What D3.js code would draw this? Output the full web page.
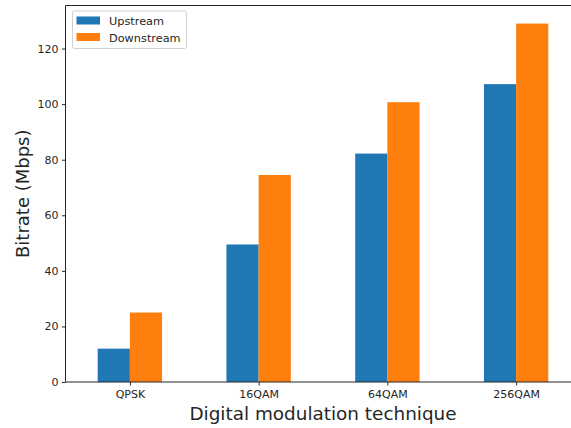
<!DOCTYPE html>
<html lang="en">
<head>
<meta charset="UTF-8">
<title>Bitrate by modulation</title>
<script src="https://d3js.org/d3.v7.min.js"></script>
<style>
    body { margin: 0; background: #fff; font-family: "DejaVu Sans", sans-serif; }
    svg { display: block; }
</style>
</head>
<body>
<svg id="chart" width="571" height="428"></svg>
<script>
const categories = ["QPSK", "16QAM", "64QAM", "256QAM"];
const upstream = [12, 49.5, 82.2, 107.2];
const downstream = [25, 74.5, 100.7, 129];
const seriesNames = ["Upstream", "Downstream"];
const yTicks = [0, 20, 40, 60, 80, 100, 120];

const colors = ["#1f77b4", "#ff7f0e"];
const svg = d3.select("#chart");

// axes box - right side runs past the image edge, like the original
const axLeft = 65.5, axRight = 580.5, axTop = 5.5, axBottom = 382;

const x = d3.scaleLinear().domain([-0.5, 3.5]).range([axLeft, axRight]);
const y = d3.scaleLinear().domain([0, 135.5]).range([axBottom, axTop]);
const barW = 0.25;

const data = categories.map((c, i) => ({ cat: c, i: i, vals: [upstream[i], downstream[i]] }));

const groups = svg.append("g").selectAll("g")
    .data(data)
    .join("g");

groups.selectAll("rect")
    .data(d => d.vals.map((v, k) => ({ i: d.i, k: k, v: v })))
    .join("rect")
    .attr("x", d => x(d.i - barW + d.k * barW))
    .attr("width", d => x(barW) - x(0))
    .attr("y", d => y(d.v))
    .attr("height", d => y(0) - y(d.v))
    .attr("fill", d => colors[d.k]);

// y axis
const yAxis = svg.append("g")
    .attr("transform", `translate(${axLeft},0)`)
    .call(d3.axisLeft(y).tickValues(yTicks).tickSize(3.5).tickPadding(3.5));
yAxis.select(".domain").remove();
yAxis.selectAll("text").style("font-size", "11px").style("font-family", "DejaVu Sans").attr("fill", "#262626");
yAxis.selectAll("line").attr("stroke", "#262626");

// x axis
const xAxis = svg.append("g")
    .attr("transform", `translate(0,${axBottom})`)
    .call(d3.axisBottom(x).tickValues(d3.range(categories.length)).tickFormat(i => categories[i]).tickSize(3.5).tickPadding(5));
xAxis.select(".domain").remove();
xAxis.selectAll("text").style("font-size", "11px").style("font-family", "DejaVu Sans").attr("fill", "#262626");
xAxis.selectAll("line").attr("stroke", "#262626");

// spines
svg.append("line").attr("x1", axLeft).attr("x2", axLeft).attr("y1", axTop).attr("y2", axBottom)
    .attr("stroke", "#262626").attr("stroke-width", 1);
svg.append("line").attr("x1", axLeft).attr("x2", axRight).attr("y1", axTop).attr("y2", axTop)
    .attr("stroke", "#262626").attr("stroke-width", 1);
svg.append("line").attr("x1", axLeft).attr("x2", axRight).attr("y1", axBottom).attr("y2", axBottom)
    .attr("stroke", "#262626").attr("stroke-width", 1);

// axis titles
svg.append("text")
    .attr("x", (axLeft + axRight) / 2).attr("y", 420)
    .attr("text-anchor", "middle")
    .style("font-size", "18.4px")
    .attr("fill", "#262626")
    .text("Digital modulation technique");

svg.append("text")
    .attr("transform", `translate(28.5,${(axTop + axBottom) / 2}) rotate(-90)`)
    .attr("text-anchor", "middle")
    .style("font-size", "18px")
    .attr("fill", "#262626")
    .text("Bitrate (Mbps)");

// legend
const legend = svg.append("g").attr("transform", "translate(72.5,11)");
legend.append("rect")
    .attr("width", 114).attr("height", 37.5).attr("rx", 2)
    .attr("fill", "#fff").attr("fill-opacity", 0.8)
    .attr("stroke", "#d0d0d0");
seriesNames.forEach((name, k) => {
    legend.append("rect")
        .attr("x", 4).attr("y", 5.5 + k * 16.5)
        .attr("width", 23.5).attr("height", 8)
        .attr("fill", colors[k]);
    legend.append("text")
        .attr("x", 36.5).attr("y", 14 + k * 16.5)
        .style("font-size", "11.3px")
        .attr("fill", "#262626")
        .text(name);
});
</script>
</body>
</html>
